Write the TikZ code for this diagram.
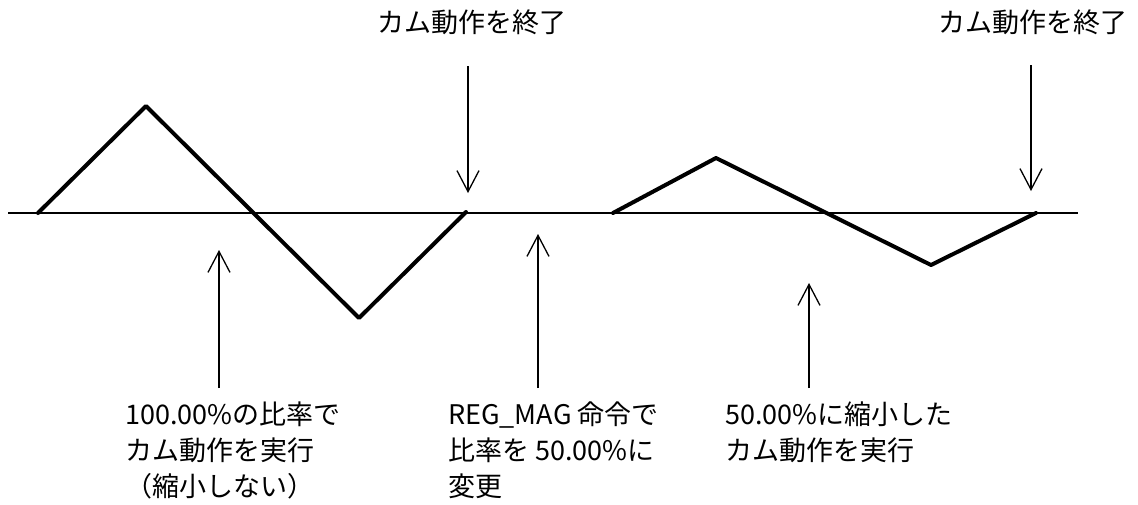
\documentclass[tikz,border=0pt]{standalone}
\usepackage{fontspec}
\setmainfont{Noto Sans CJK JP}
\usetikzlibrary{arrows.meta}
\begin{document}
\begin{tikzpicture}[x=1pt,y=-1pt,
  axisline/.style={line width=1.6pt},
  wave/.style={line width=4pt,line join=round,line cap=round},
  pointer/.style={line width=1.3pt,-{Straight Barb[length=21pt,width=22pt,line width=1.3pt]}},
  lbl/.style={inner sep=0pt,align=left,anchor=north west,font=\fontsize{27}{36}\selectfont},
  toplbl/.style={inner sep=0pt,anchor=base,font=\fontsize{27}{36}\selectfont}]
\useasboundingbox (0,0) rectangle (1138,504);
% axis
\coordinate (ax0) at (8,213);
\coordinate (ax1) at (1078,213);
\draw[axisline] (ax0) -- (ax1);
% wave 1
\coordinate (a0) at (38,213);
\coordinate (a1) at (146,106);
\coordinate (a2) at (359,318);
\coordinate (a3) at (466,212);
\draw[wave] (a0) -- (a1) -- (a2) -- (a3);
% wave 2
\coordinate (b0) at (613,213);
\coordinate (b1) at (716,158);
\coordinate (b2) at (931,265);
\coordinate (b3) at (1036,213);
\draw[wave] (b0) -- (b1) -- (b2) -- (b3);
% top labels
\node[toplbl] (t1) at (472,32) {カム動作を終了};
\node[toplbl] (t2) at (1033,32) {カム動作を終了};
% down arrows
\coordinate (d1s) at (468,66);
\coordinate (d1e) at (468,193);
\coordinate (d2s) at (1031,65);
\coordinate (d2e) at (1031,191);
\draw[pointer] (d1s) -- (d1e);
\draw[pointer] (d2s) -- (d2e);
% bottom labels
\node[lbl] (l1) at (125,402) {100.00\%の比率で\\カム動作を実行\\（縮小しない）};
\node[lbl] (l2) at (448,402) {REG\_MAG 命令で\\比率を 50.00\%に\\変更};
\node[lbl] (l3) at (725,402) {50.00\%に縮小した\\カム動作を実行};
% up arrows
\coordinate (u1s) at (219,388);
\coordinate (u1e) at (219,250);
\coordinate (u2s) at (538,388);
\coordinate (u2e) at (538,234);
\coordinate (u3s) at (809,388);
\coordinate (u3e) at (809,283);
\draw[pointer] (u1s) -- (u1e);
\draw[pointer] (u2s) -- (u2e);
\draw[pointer] (u3s) -- (u3e);
\end{tikzpicture}
\end{document}
